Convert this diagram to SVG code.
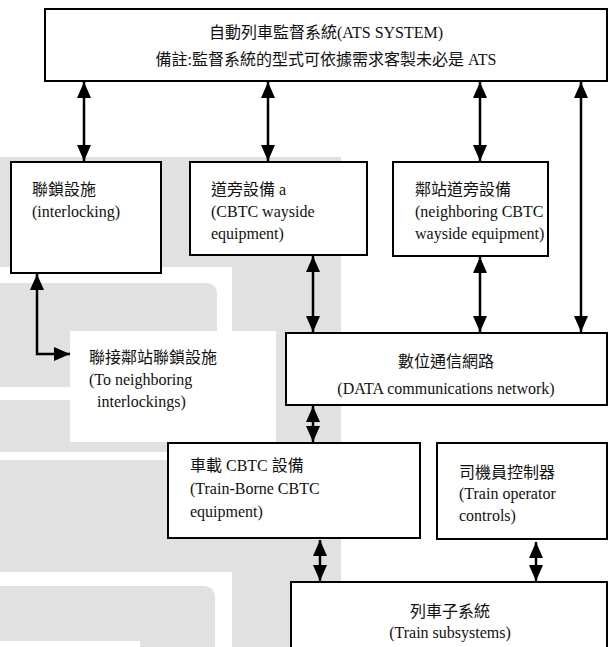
<svg xmlns="http://www.w3.org/2000/svg" width="610" height="647" viewBox="0 0 610 647">
  <defs>
    <marker id="ah" viewBox="0 0 16 14" refX="16" refY="7" markerWidth="16" markerHeight="14" markerUnits="userSpaceOnUse" orient="auto-start-reverse">
      <path d="M0,0 L16,7 L0,14 z" fill="#000"/>
    </marker>
  </defs>
  <style>
    .bg { fill: #e1e1e1; }
    .box { fill: #fff; stroke: #000; stroke-width: 2; }
    .lbl { font-family: "Liberation Serif", "Noto Sans CJK TC", serif; font-size: 16px; fill: #111; }
    .mid { text-anchor: middle; }
    .conn { fill: none; stroke: #000; stroke-width: 2.5; }
  </style>

  <rect width="610" height="647" fill="#fff"/>

  <!-- faded background blocks -->
  <g id="backdrop">
    <rect class="bg" x="0" y="157" width="300" height="110"/>
    <rect class="bg" x="232" y="157" width="109" height="490"/>
    <path class="bg" d="M0,283 H205 Q217,283 217,295 V387 H0 z"/>
    <rect class="bg" x="0" y="400" width="232" height="52"/>
    <rect class="bg" x="0" y="460" width="232" height="112"/>
    <path class="bg" d="M0,586 H203 Q215,586 215,598 V647 H140 V641 H0 z"/>
    <rect x="70" y="331" width="206" height="111" fill="#fff"/>
  </g>

  <!-- connectors -->
  <g id="connectors">
    <line class="conn" x1="84" y1="82" x2="84" y2="161" marker-start="url(#ah)" marker-end="url(#ah)"/>
    <line class="conn" x1="268" y1="82" x2="268" y2="161" marker-start="url(#ah)" marker-end="url(#ah)"/>
    <line class="conn" x1="480" y1="82" x2="480" y2="161" marker-start="url(#ah)" marker-end="url(#ah)"/>
    <line class="conn" x1="581" y1="82" x2="581" y2="332" marker-start="url(#ah)" marker-end="url(#ah)"/>
    <line class="conn" x1="313" y1="256" x2="313" y2="332" marker-start="url(#ah)" marker-end="url(#ah)"/>
    <line class="conn" x1="480" y1="257" x2="480" y2="332" marker-start="url(#ah)" marker-end="url(#ah)"/>
    <path class="conn" d="M37,274 V354 H70" marker-start="url(#ah)" marker-end="url(#ah)"/>
    <line class="conn" x1="313" y1="406" x2="313" y2="442" marker-start="url(#ah)" marker-end="url(#ah)"/>
    <line class="conn" x1="320" y1="540" x2="320" y2="581" marker-start="url(#ah)" marker-end="url(#ah)"/>
    <line class="conn" x1="536" y1="542" x2="536" y2="581" marker-start="url(#ah)" marker-end="url(#ah)"/>
  </g>

  <g id="ats">
    <rect class="box" x="45" y="9" width="562" height="72"/>
    <text class="lbl mid" x="326" y="38">自動列車監督系統(ATS SYSTEM)</text>
    <text class="lbl mid" x="326" y="65">備註:監督系統的型式可依據需求客製未必是 ATS</text>
  </g>

  <g id="interlocking">
    <rect class="box" x="11" y="162" width="150" height="111"/>
    <text class="lbl" x="32" y="195">聯鎖設施</text>
    <text class="lbl" x="32" y="217">(interlocking)</text>
  </g>

  <g id="wayside">
    <rect class="box" x="190" y="162" width="177" height="93"/>
    <text class="lbl" x="211" y="195">道旁設備 a</text>
    <text class="lbl" x="211" y="217">(CBTC wayside</text>
    <text class="lbl" x="211" y="239">equipment)</text>
  </g>

  <g id="neighbor-wayside">
    <rect class="box" x="393" y="162" width="155" height="94"/>
    <text class="lbl" x="415" y="195">鄰站道旁設備</text>
    <text class="lbl" x="415" y="217">(neighboring CBTC</text>
    <text class="lbl" x="415" y="239">wayside equipment)</text>
  </g>

  <g id="neighbor-interlocking">
    <text class="lbl" x="89" y="363">聯接鄰站聯鎖設施</text>
    <text class="lbl" x="89" y="385">(To neighboring</text>
    <text class="lbl" x="97" y="407">interlockings)</text>
  </g>

  <g id="network">
    <rect class="box" x="286" y="333" width="321" height="72"/>
    <text class="lbl mid" x="446" y="367">數位通信網路</text>
    <text class="lbl mid" x="446" y="394">(DATA communications network)</text>
  </g>

  <g id="trainborne">
    <rect class="box" x="168" y="443" width="252" height="95"/>
    <text class="lbl" x="190" y="471">車載 CBTC 設備</text>
    <text class="lbl" x="190" y="494">(Train-Borne CBTC</text>
    <text class="lbl" x="190" y="517">equipment)</text>
  </g>

  <g id="operator">
    <rect class="box" x="437" y="443" width="170" height="96"/>
    <text class="lbl" x="459" y="478">司機員控制器</text>
    <text class="lbl" x="459" y="499">(Train operator</text>
    <text class="lbl" x="459" y="521">controls)</text>
  </g>

  <g id="subsystems">
    <rect class="box" x="291" y="582" width="316" height="80"/>
    <text class="lbl mid" x="450" y="617">列車子系統</text>
    <text class="lbl mid" x="450" y="638">(Train subsystems)</text>
  </g>
</svg>
